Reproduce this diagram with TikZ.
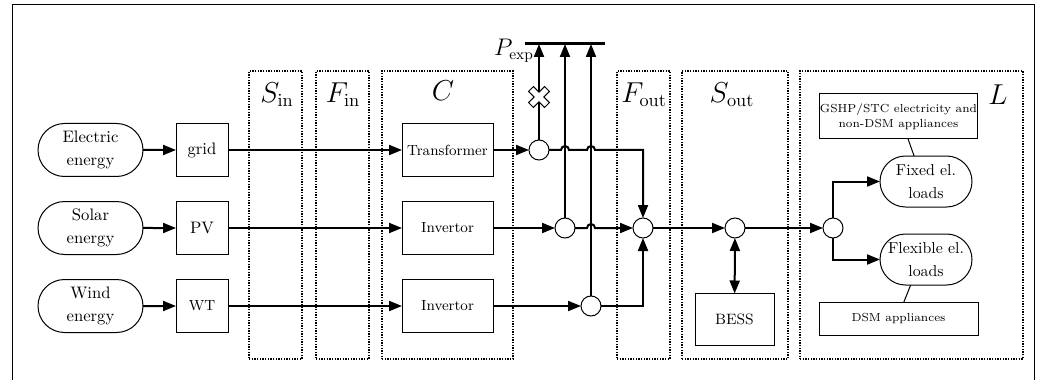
\documentclass[tikz,border=0pt]{standalone}
\usepackage{amsmath}
\usetikzlibrary{arrows.meta,positioning,calc,shapes.misc}

\begin{document}
\begin{tikzpicture}[
  x=0.6pt, y=-0.6pt,
  every node/.style={inner sep=0pt, outer sep=0pt},
  source/.style={draw, line width=0.6pt, rounded rectangle, minimum width=63pt,
                 minimum height=31.8pt, align=center,
                 font=\fontsize{10}{13.5}\selectfont},
  unit/.style={draw, line width=0.6pt, minimum width=31.2pt,
               minimum height=31.8pt, font=\fontsize{10}{12}\selectfont},
  conv/.style={draw, line width=0.6pt, minimum width=54.6pt,
               minimum height=31.8pt, font=\fontsize{8.8}{10}\selectfont},
  zone/.style={draw, dash pattern=on 0.8pt off 0.8pt, line width=0.7pt,
               minimum height=172.8pt},
  zlabel/.style={font=\fontsize{16}{18}\selectfont},
  junc/.style={draw, line width=0.6pt, circle, fill=white, minimum size=12pt},
  load/.style={draw, line width=0.6pt, rounded rectangle, minimum width=55.2pt,
               minimum height=30.6pt, align=center,
               font=\fontsize{9.5}{13.5}\selectfont},
  note/.style={draw, line width=0.6pt, align=center,
               font=\fontsize{7}{9}\selectfont},
  arr/.style={-{Stealth[length=7.8pt, width=6pt, inset=0pt]}, line width=1.2pt},
  twoway/.style={{Stealth[length=7.8pt, width=6pt, inset=0pt]}-{Stealth[length=7.8pt, width=6pt, inset=0pt]},
                 line width=1.2pt}
]
\useasboundingbox (0,0) rectangle (1052,380);

% Frame
\draw[line width=0.6pt] (12,380) |- (1034,5) -- (1034,380);

% Zones
\node[zone, minimum width=31.8pt] (sin) at (275.5,215) {};
\node[zone, minimum width=31.8pt] (fin) at (342.5,215) {};
\node[zone, minimum width=78.6pt] (cz) at (447.5,215) {};
\node[zone, minimum width=31.8pt] (fout) at (643.5,215) {};
\node[zone, minimum width=63.6pt] (sout) at (735,215) {};
\node[zone, minimum width=133.8pt] (lz) at (911.5,215) {};
\node[zlabel] (sinlab) at (277,95) {$S_{\mathrm{in}}$};
\node[zlabel] (finlab) at (343,95) {$F_{\mathrm{in}}$};
\node[zlabel] (clab) at (443,91) {$C$};
\node[zlabel] (foutlab) at (644,95) {$F_{\mathrm{out}}$};
\node[zlabel] (soutlab) at (732,95) {$S_{\mathrm{out}}$};
\node[zlabel] (llab) at (998,95) {$L$};

% Sources
\node[source] (elec) at (90.5,150) {Electric\\energy};
\node[source] (solar) at (90.5,228) {Solar\\energy};
\node[source] (wind) at (90.5,306) {Wind\\energy};
\node[unit, right=19.8pt of elec] (grid) {grid};
\node[unit, right=19.8pt of solar] (pv) {PV};
\node[unit, font=\fontsize{8.8}{10}\selectfont, right=19.8pt of wind] (wt) {WT};
\draw[arr] (elec) -- (grid);
\draw[arr] (solar) -- (pv);
\draw[arr] (wind) -- (wt);

% Converters
\node[conv] (trafo) at (447.5,150) {Transformer};
\node[conv] (inv1) at (447.5,228) {Invertor};
\node[conv] (inv2) at (447.5,306) {Invertor};
\draw[arr] (grid) -- (trafo);
\draw[arr] (pv) -- (inv1);
\draw[arr] (wt) -- (inv2);

% Export bus
\coordinate (busL) at (525,44);
\coordinate (busR) at (605,44);
\draw[line width=1.8pt] (busL) -- (busR);
\node[font=\fontsize{13.5}{15}\selectfont] (pexp) at (514,51) {$P_{\mathrm{exp}}$};

% Junctions
\node[junc] (j1) at (539,150) {};
\node[junc] (j2) at (565,228) {};
\node[junc] (j3) at (591,306) {};
\node[junc] (sum) at (643,228) {};
\draw[arr] (trafo) -- (j1);
\draw[arr] (inv1) -- (j2);
\draw[arr] (inv2) -- (j3);
\draw[arr] (j1) -- (j1 |- busL);
\draw[arr] (j2) -- (j2 |- busL);
\draw[arr] (j3) -- (j3 |- busL);

% Blocked export
\coordinate (xmark) at (539,97);
\draw[fill=white, line width=0.6pt, shift={(xmark)}, rotate=45]
  (3.5,-11.3) -- (3.5,-3.5) -- (11.3,-3.5) -- (11.3,3.5) -- (3.5,3.5)
  -- (3.5,11.3) -- (-3.5,11.3) -- (-3.5,3.5) -- (-11.3,3.5) -- (-11.3,-3.5)
  -- (-3.5,-3.5) -- (-3.5,-11.3) -- cycle;

% Flows into the sum
\draw[arr] (j1) -- ($(j2 |- j1)+(-4,0)$) arc[start angle=180, end angle=360, radius=4]
  -- ($(j3 |- j1)+(-4,0)$) arc[start angle=180, end angle=360, radius=4]
  -- (sum |- j1) -- (sum);
\draw[arr] (j2) -- ($(j3 |- j2)+(-4,0)$) arc[start angle=180, end angle=360, radius=4]
  -- (sum);
\draw[arr] (j3) -| (sum);

% Storage
\node[junc] (bj) at (735,228) {};
\node[draw, line width=0.6pt, minimum width=47.4pt, minimum height=31.2pt,
      font=\fontsize{9}{10}\selectfont] (bess) at (734.5,319.5) {BESS};
\draw[arr] (sum) -- (bj);
\draw[twoway] (bess) -- (bj);

% Loads
\node[junc] (lj) at (833,228) {};
\node[load] (fixed) at (926,181.5) {Fixed el.\\loads};
\node[load] (flex) at (926,259.5) {Flexible el.\\loads};
\node[note, minimum width=90.6pt, minimum height=27pt] (gshp) at (898.5,116.5)
     {GSHP/STC electricity and\\non-DSM appliances};
\node[note, minimum width=95.4pt, minimum height=19.8pt] (dsm) at (898.5,318.5)
     {DSM appliances};
\draw[arr] (bj) -- (lj);
\draw[arr] (lj) |- (fixed);
\draw[arr] (lj) |- (flex);
\draw[line width=0.6pt] (gshp.-67) -- (fixed.115);
\draw[line width=0.6pt] (flex.-121) -- (dsm.72);

\end{tikzpicture}
\end{document}
